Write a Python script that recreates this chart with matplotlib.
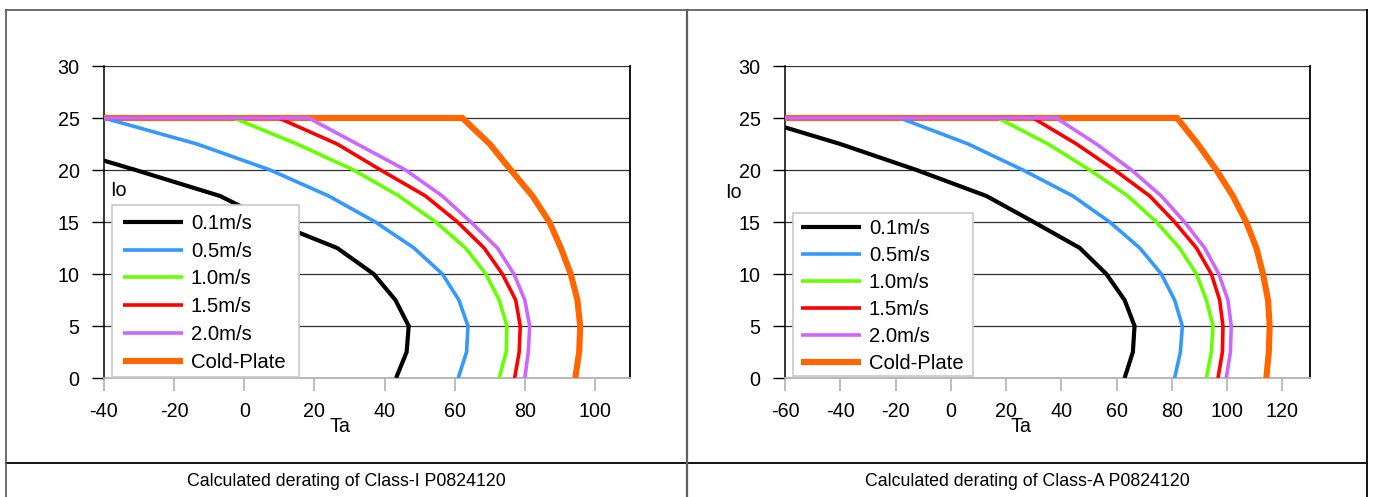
import matplotlib
matplotlib.use("Agg")
import matplotlib.pyplot as plt
from matplotlib.lines import Line2D
from matplotlib.patches import Rectangle
from matplotlib import font_manager

plt.rcParams['font.family'] = ['Liberation Sans', 'DejaVu Sans']
plt.rcParams['axes.unicode_minus'] = False

# ---------------- data ----------------
labels = ["0.1m/s", "0.5m/s", "1.0m/s", "1.5m/s", "2.0m/s", "Cold-Plate"]
colors = ["#000000", "#3399ff", "#66ff00", "#ff0000", "#cc66ff", "#ff6600"]

io_steps = [0, 2.5, 5, 7.5, 10, 12.5, 15, 17.5, 20, 22.5, 25]

# Left chart: Class-I
L_black_T = [43.3, 46.3, 46.9, 43.1, 36.9, 26.5, 8.0, -6.9, -31.0, -40.0]
L_black_I = [0, 2.5, 5, 7.5, 10, 12.5, 15, 17.5, 20, 20.9]
L_blue_T = [61.0, 63.4, 63.8, 61.2, 56.5, 48.4, 37.4, 24.1, 7.4, -13.5, -40.0]
L_blue_I = io_steps
L_green_T = [72.7, 74.7, 74.9, 72.7, 68.9, 63.1, 54.6, 44.1, 31.2, 15.0, -3.0, -40.0]
L_red_T = [77.1, 78.4, 78.7, 77.4, 73.6, 68.4, 60.8, 51.7, 38.9, 26.5, 9.8, -40.0]
L_purple_T = [80.0, 81.0, 81.4, 80.0, 76.9, 72.2, 64.6, 56.5, 46.0, 32.2, 18.4, -40.0]
L_orange_T = [94.4, 95.5, 95.8, 95.0, 93.1, 90.3, 87.0, 82.2, 76.0, 70.0, 62.2, -40.0]
L_full_I = io_steps + [25]

# Right chart: Class-A
R_black_T = [62.9, 65.9, 66.5, 62.9, 56.3, 46.7, 30.0, 12.9, -12.4, -40.0, -60.0]
R_black_I = [0, 2.5, 5, 7.5, 10, 12.5, 15, 17.5, 20, 22.5, 24.1]
R_blue_T = [81.0, 83.1, 83.8, 81.0, 76.2, 68.4, 57.5, 44.2, 26.1, 6.3, -18.4, -60.0]
R_green_T = [92.5, 94.3, 94.9, 92.5, 88.9, 82.8, 74.4, 64.1, 50.3, 35.2, 17.1, -60.0]
R_red_T = [96.7, 98.3, 98.5, 97.3, 94.3, 88.9, 81.0, 72.0, 59.3, 45.5, 29.8, -60.0]
R_purple_T = [99.7, 101.2, 101.5, 100.3, 97.0, 91.9, 84.6, 76.2, 65.4, 52.7, 38.2, -60.0]
R_orange_T = [114.2, 115.1, 115.4, 114.8, 113.0, 110.6, 106.9, 102.1, 96.1, 89.4, 81.9, -60.0]
R_full_I = io_steps + [25]

y_ticks = [0, 5, 10, 15, 20, 25, 30]
L_x_ticks = [-40, -20, 0, 20, 40, 60, 80, 100]
R_x_ticks = [-60, -40, -20, 0, 20, 40, 60, 80, 100, 120]

captions = ["Calculated derating of Class-I P0824120",
            "Calculated derating of Class-A P0824120"]

# ---------------- figure ----------------
W, H = 1374, 497
FS = 14.2
LEG_FS = 14.6
fig = plt.figure(figsize=(W / 100, H / 100), dpi=100)


def px_rect(x0, x1, ytop, ybot):
    return [x0 / W, 1 - ybot / H, (x1 - x0) / W, (ybot - ytop) / H]


def draw_chart(ax, series, xlim, xticks, frame_box, first_row, row_gap,
               handle_x, io_pos, ta_pos):
    widths = [3.0, 2.6, 2.6, 2.6, 2.6, 4.4]
    zorders = [6, 6, 6, 6, 6, 4]
    handles = []
    for (T, I), c, lab, lw, z in zip(series, colors, labels, widths, zorders):
        h, = ax.plot(T, I, color=c, lw=lw, label=lab, zorder=z,
                     solid_joinstyle='miter', solid_capstyle='butt')
        handles.append(h)
    ax.set_xlim(*xlim)
    ax.set_ylim(0, 30)
    ax.set_xticks(xticks)
    ax.set_yticks(y_ticks)
    ax.grid(axis='y', color='#303030', lw=0.9, zorder=1)
    ax.set_axisbelow(True)
    ax.spines['top'].set_visible(False)
    ax.spines['left'].set_color('black')
    ax.spines['left'].set_linewidth(1.1)
    ax.spines['right'].set_color('black')
    ax.spines['right'].set_linewidth(1.3)
    ax.spines['bottom'].set_color('#b3b3b3')
    ax.spines['bottom'].set_linewidth(1.3)
    ax.tick_params(axis='x', direction='out', length=9, width=1.2,
                   color='#b3b3b3', labelsize=FS, pad=8, labelcolor='black')
    ax.tick_params(axis='y', direction='out', length=8.5, width=1.0,
                   color='black', labelsize=FS, pad=9)

    # legend frame drawn at exact position (inside the axes, under the legend)
    x0, x1, y0, y1 = frame_box
    ax.add_patch(Rectangle((x0 / W, 1 - y1 / H), (x1 - x0) / W, (y1 - y0) / H,
                           transform=fig.transFigure, facecolor='white',
                           edgecolor='#c8c8c8', lw=1.2, zorder=9,
                           clip_on=False))
    hl_px = 60
    fs_px = LEG_FS * 100 / 72
    text_h = 0.935 * fs_px
    leg = ax.legend(handles=handles, loc='upper left',
                    bbox_to_anchor=(handle_x / W, 1 - (first_row - 7.8) / H),
                    bbox_transform=fig.transFigure,
                    fontsize=LEG_FS, frameon=False,
                    handlelength=hl_px / fs_px,
                    handletextpad=8.0 / fs_px,
                    labelspacing=(row_gap - text_h) / fs_px,
                    borderpad=0, borderaxespad=0)
    leg.set_zorder(10)
    ax.text(io_pos[0] / W, 1 - io_pos[1] / H, "Io", fontsize=FS,
            ha='center', va='center', transform=fig.transFigure)
    ax.text(ta_pos[0] / W, 1 - ta_pos[1] / H, "Ta", fontsize=FS,
            ha='center', va='center', transform=fig.transFigure)


axL = fig.add_axes(px_rect(104, 630, 66, 378))
seriesL = [(L_black_T, L_black_I), (L_blue_T, L_blue_I), (L_green_T, L_full_I),
           (L_red_T, L_full_I), (L_purple_T, L_full_I), (L_orange_T, L_full_I)]
draw_chart(axL, seriesL, (-40, 110), L_x_ticks,
           (112, 299, 205, 377), 221.7, 27.7, 123,
           (118, 191), (340, 426))

axR = fig.add_axes(px_rect(785, 1310, 66, 378))
seriesR = [(R_black_T, R_black_I), (R_blue_T, R_full_I), (R_green_T, R_full_I),
           (R_red_T, R_full_I), (R_purple_T, R_full_I), (R_orange_T, R_full_I)]
draw_chart(axR, seriesR, (-60, 130), R_x_ticks,
           (793, 973, 213, 376), 226.7, 26.9, 801,
           (733, 193), (1021, 426))


# table frame lines
def hline(y, x0, x1, color='#404040', lw=1.2):
    fig.add_artist(Line2D([x0 / W, x1 / W], [1 - y / H, 1 - y / H],
                          color=color, lw=lw, transform=fig.transFigure))


def vline(x, y0, y1, color='#404040', lw=1.2):
    fig.add_artist(Line2D([x / W, x / W], [1 - y0 / H, 1 - y1 / H],
                          color=color, lw=lw, transform=fig.transFigure))


hline(9.5, 6, 1367, color='#555555')
hline(463.3, 6, 1367, color='black', lw=1.3)
vline(6, 9.5, 497, color='#555555')
vline(686.7, 9.5, 497, color='#606060', lw=1.6)
vline(1367, 9.5, 497, color='black', lw=1.3)

avail = {f.name for f in font_manager.fontManager.ttflist}
cap_family = (['Liberation Sans Narrow', 'Liberation Sans']
              if 'Liberation Sans Narrow' in avail else ['Liberation Sans'])
fig.text(346 / W, 1 - 481 / H, captions[0], fontsize=12.8, ha='center',
         va='center', family=cap_family)
fig.text(1027 / W, 1 - 481 / H, captions[1], fontsize=12.8, ha='center',
         va='center', family=cap_family)

fig.savefig("out.png", dpi=100, facecolor='white')
